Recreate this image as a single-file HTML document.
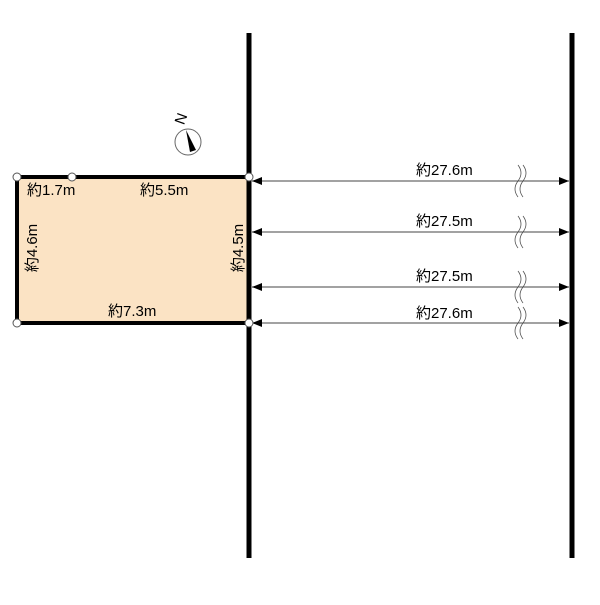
<!DOCTYPE html>
<html><head><meta charset="utf-8"><style>body{margin:0;background:#fff}</style></head><body>
<svg width="600" height="600" xmlns="http://www.w3.org/2000/svg" font-family="Liberation Sans, Noto Sans CJK JP, sans-serif" font-size="15" fill="#000">
<defs><marker id="a" markerWidth="10" markerHeight="8" refX="10" refY="4" orient="auto-start-reverse" markerUnits="userSpaceOnUse"><path d="M0,0 L10,4 L0,8z" fill="#000"/></marker></defs>
<rect x="17" y="177" width="232" height="146" fill="#fbe3c4" stroke="#000" stroke-width="4"/>
<line x1="249" y1="33" x2="249" y2="558" stroke="#000" stroke-width="5"/>
<line x1="572" y1="33" x2="572" y2="558" stroke="#000" stroke-width="5"/>
<g stroke="#444" stroke-width="1">
<line x1="252" y1="181" x2="569" y2="181" marker-end="url(#a)" marker-start="url(#a)"/>
<line x1="252" y1="232" x2="569" y2="232" marker-end="url(#a)" marker-start="url(#a)"/>
<line x1="252" y1="287" x2="569" y2="287" marker-end="url(#a)" marker-start="url(#a)"/>
<line x1="252" y1="323" x2="569" y2="323" marker-end="url(#a)" marker-start="url(#a)"/>
</g>
<g fill="none" stroke="#555" stroke-width="0.8">
<path d="M518,165 q6,8 0,16 q-6,8 0,16 M523,165 q6,8 0,16 q-6,8 0,16"/>
<path d="M518,216 q6,8 0,16 q-6,8 0,16 M523,216 q6,8 0,16 q-6,8 0,16"/>
<path d="M518,271 q6,8 0,16 q-6,8 0,16 M523,271 q6,8 0,16 q-6,8 0,16"/>
<path d="M518,307 q6,8 0,16 q-6,8 0,16 M523,307 q6,8 0,16 q-6,8 0,16"/>
</g>
<g fill="#fff" stroke="#555" stroke-width="1">
<circle cx="17" cy="177" r="4"/><circle cx="72" cy="177" r="4"/><circle cx="249" cy="177" r="4"/>
<circle cx="17" cy="323" r="4"/><circle cx="249" cy="323" r="4"/>
</g>
<text x="416" y="175">約27.6m</text>
<text x="416" y="226">約27.5m</text>
<text x="416" y="281">約27.5m</text>
<text x="416" y="318">約27.6m</text>
<text x="27" y="195">約1.7m</text>
<text x="140" y="195">約5.5m</text>
<text x="108" y="316">約7.3m</text>
<text transform="translate(33,248) rotate(-90)" text-anchor="middle" dominant-baseline="middle">約4.6m</text>
<text transform="translate(239,248) rotate(-90)" text-anchor="middle" dominant-baseline="middle">約4.5m</text>
<circle cx="188" cy="142" r="13" fill="#fff" stroke="#666"/>
<path d="M186,130 L196,150 L190,152z" fill="#000"/>
<text transform="translate(182,119) rotate(-70)" text-anchor="middle" dominant-baseline="middle" font-size="15">N</text>
</svg>
</body></html>
